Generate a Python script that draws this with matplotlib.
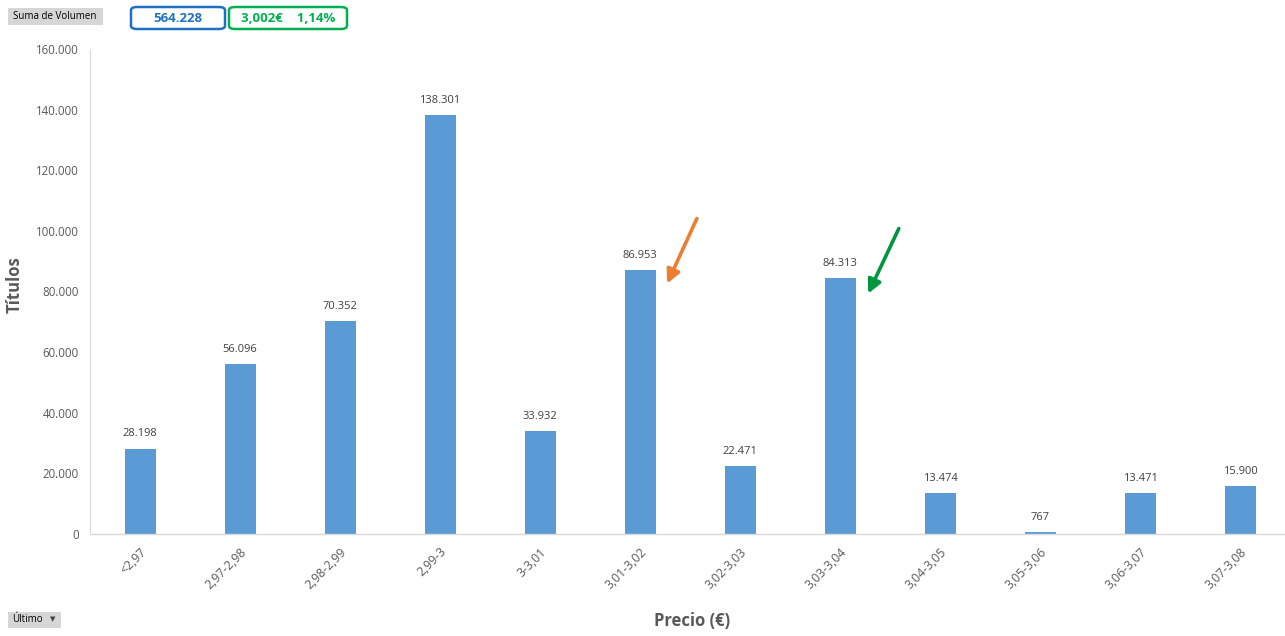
import matplotlib.pyplot as plt
from matplotlib.patches import FancyBboxPatch
from matplotlib.transforms import ScaledTranslation

# data
rangos = ['<2,97', '2,97-2,98', '2,98-2,99', '2,99-3', '3-3,01', '3,01-3,02',
          '3,02-3,03', '3,03-3,04', '3,04-3,05', '3,05-3,06', '3,06-3,07', '3,07-3,08']
titulos = [28198, 56096, 70352, 138301, 33932, 86953, 22471, 84313, 13474, 767, 13471, 15900]
yticks = [0, 20000, 40000, 60000, 80000, 100000, 120000, 140000, 160000]

def fmt(v):
    return '{:,}'.format(v).replace(',', '.')

W, H = 1285, 636
fig = plt.figure(figsize=(W / 100, H / 100), dpi=100)
plt.rcParams['font.family'] = ['Open Sans', 'DejaVu Sans']

ax = fig.add_axes([90 / W, 1 - 534 / H, (W - 90) / W, (534 - 49) / H])
x = list(range(len(rangos)))
ax.bar(x, titulos, width=0.31, color='#5b9bd5', zorder=2)
for i, v in enumerate(titulos):
    ax.text(i, v + 3000, fmt(v), ha='center', va='bottom', fontsize=8, color='#404040')

ax.set_xlim(-0.5, 11.45)
ax.set_ylim(0, 160000)
ax.set_yticks(yticks)
ax.set_yticklabels([fmt(t) for t in yticks], fontsize=8.3, color='#595959')
ax.set_xticks(x)
ax.set_xticklabels(rangos, rotation=45, ha='right', rotation_mode='anchor',
                   fontsize=8.8, color='#595959')
off = ScaledTranslation(0.12, 0, fig.dpi_scale_trans)
for lab in ax.get_xticklabels():
    lab.set_transform(lab.get_transform() + off)
ax.tick_params(length=0, pad=8)
for s in ['top', 'right']:
    ax.spines[s].set_visible(False)
for s in ['left', 'bottom']:
    ax.spines[s].set_color('#d9d9d9')
ax.spines['left'].set_linewidth(0.8)
ax.spines['bottom'].set_linewidth(1.0)

# arrows
ax.annotate('', xy=(5.26, 81800), xytext=(5.58, 104900),
            arrowprops=dict(arrowstyle='-|>,head_width=0.4,head_length=0.8',
                            color='#ed7d31', lw=2.6))
ax.annotate('', xy=(7.27, 78500), xytext=(7.6, 101600),
            arrowprops=dict(arrowstyle='-|>,head_width=0.4,head_length=0.8',
                            color='#00953f', lw=2.6))

# axis titles
fig.text(15 / W, 1 - 285 / H, 'Títulos', rotation=90, ha='center', va='center',
         fontsize=12, fontweight='bold', color='#595959')
fig.text(692 / W, 1 - 621 / H, 'Precio (€)', ha='center', va='center',
         fontsize=12, fontweight='bold', color='#595959')

# pivot buttons / boxes
def box(x0, y0, x1, y1, fc, ec, lw, rad):
    p = FancyBboxPatch((x0 / W, 1 - y1 / H), (x1 - x0) / W, (y1 - y0) / H,
                       boxstyle='round,pad=0,rounding_size=%f' % rad,
                       transform=fig.transFigure, fc=fc, ec=ec, lw=lw)
    fig.patches.append(p)

box(8, 8, 103, 25, '#d6d6d6', 'none', 0, 0)
fig.text(55 / W, 1 - 16.5 / H, 'Suma de Volumen', ha='center', va='center', fontsize=7, color='#000000')
box(131, 7, 225, 29, 'white', '#1f70c1', 1.8, 0.005)
fig.text(178 / W, 1 - 18 / H, '564.228', ha='center', va='center', fontsize=9.5,
         fontweight='bold', color='#1f70c1')
box(229, 7, 347, 29, 'white', '#00b050', 1.8, 0.005)
fig.text(288 / W, 1 - 18 / H, '3,002€    1,14%', ha='center', va='center', fontsize=9.5,
         fontweight='bold', color='#00b050')
box(8, 612, 61, 628, '#d6d6d6', 'none', 0, 0)
fig.text(12 / W, 1 - 620 / H, 'Último', ha='left', va='center', fontsize=7, color='#000000')
fig.text(53 / W, 1 - 620 / H, '▼', ha='center', va='center', fontsize=5, color='#404040')

fig.savefig('out.png', dpi=100)
